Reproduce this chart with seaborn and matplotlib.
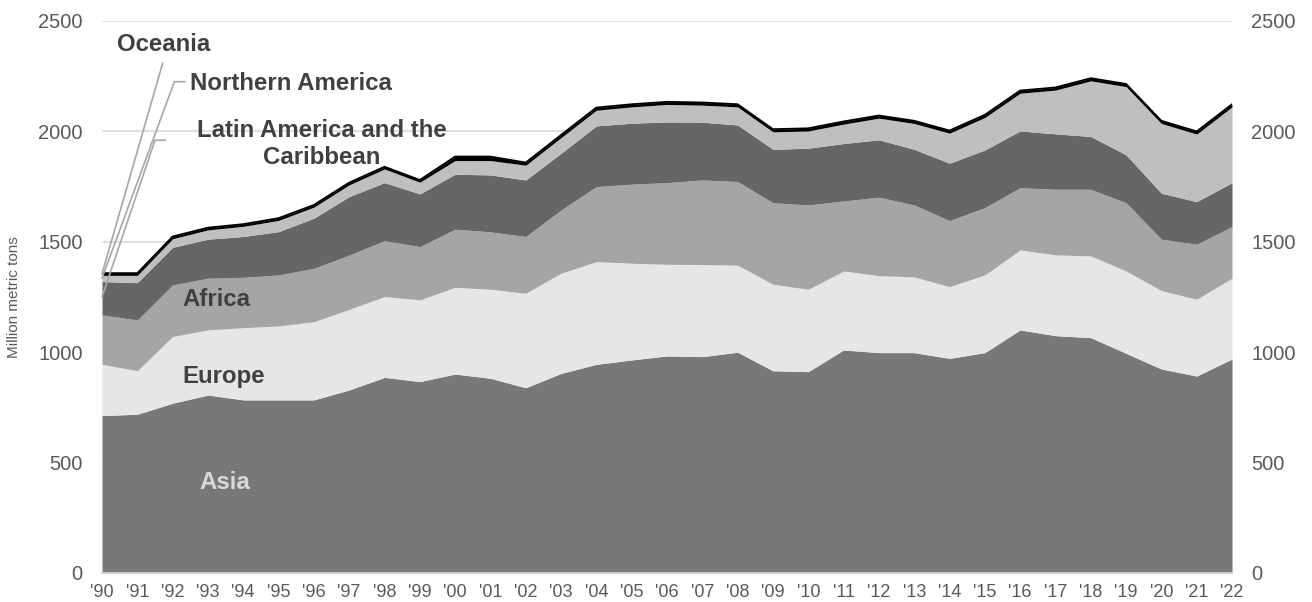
import numpy as np
import pandas as pd
import seaborn as sns
import matplotlib.pyplot as plt

# data (million metric tons)
years = list(range(1990, 2023))
year_labels = ["'" + str(y)[2:] for y in years]

asia = [713, 719, 769, 806, 784, 784, 784, 829, 886, 867, 901, 882, 839, 904, 945, 965, 983,
        980, 1000, 916, 912, 1010, 998, 998, 972, 998, 1101, 1075, 1066, 995, 924, 892, 969]
europe = [232, 197, 302, 295, 327, 335, 354, 365, 366, 370, 393, 403, 428, 454, 465, 438, 415,
          417, 394, 392, 373, 358, 349, 343, 325, 352, 362, 366, 370, 373, 355, 348, 366]
africa = [224, 230, 234, 234, 228, 231, 242, 246, 253, 241, 263, 260, 257, 286, 340, 358, 370,
          383, 379, 369, 382, 317, 355, 326, 299, 305, 282, 297, 302, 309, 233, 249, 234]
latin_america = [151, 169, 170, 177, 185, 196, 227, 265, 263, 239, 249, 258, 256, 257, 275, 276, 275,
                 262, 256, 242, 257, 260, 260, 252, 260, 261, 257, 251, 239, 217, 208, 193, 199]
northern_america = [28, 33, 39, 42, 46, 51, 50, 53, 62, 53, 62, 65, 67, 71, 71, 74, 79,
                    77, 82, 79, 78, 88, 98, 117, 136, 147, 171, 198, 252, 309, 316, 306, 343]
oceania = [10, 10, 10, 10, 10, 10, 10, 10, 10, 10, 18, 18, 12, 12, 12, 12, 12,
           12, 12, 12, 12, 12, 12, 12, 12, 12, 12, 12, 12, 12, 12, 12, 12]

regions = ['Asia', 'Europe', 'Africa', 'Latin America and the Caribbean', 'Northern America', 'Oceania']
colors = ['#787878', '#e6e6e6', '#a5a5a5', '#666666', '#bfbfbf', '#000000']

df = pd.DataFrame({'year': years, 'Asia': asia, 'Europe': europe, 'Africa': africa,
                   'Latin America and the Caribbean': latin_america,
                   'Northern America': northern_america, 'Oceania': oceania})
df['total'] = df[regions].sum(axis=1)

sns.set_theme(style='white')
plt.rcParams['font.family'] = ['Liberation Sans', 'DejaVu Sans']

fig = plt.figure(figsize=(13.12, 6.02), dpi=100)
ax = fig.add_axes([102 / 1312, 1 - 573 / 602, (1232 - 102) / 1312, (573 - 21) / 602])

ax.stackplot(df['year'], *[df[r] for r in regions], colors=colors, linewidth=0, zorder=2)
sns.lineplot(x='year', y='total', data=df, ax=ax, color='black', linewidth=1.3, zorder=3)

ax.set_xlim(1990, 2022)
ax.set_ylim(0, 2500)
ax.set_yticks([0, 500, 1000, 1500, 2000, 2500])
ax.yaxis.grid(True, color='#d9d9d9', linewidth=1.2, zorder=0)
ax.set_axisbelow(True)
ax.set_xticks(years)
ax.set_xticklabels(year_labels)
ax.tick_params(axis='x', length=4, width=1, color='#d9d9d9', labelsize=13, labelcolor='#595959', pad=4)
ax.tick_params(axis='y', length=0, labelsize=14.5, labelcolor='#595959', pad=14)
for s in ['top', 'right', 'left']:
    ax.spines[s].set_visible(False)
ax.spines['bottom'].set_color('#d9d9d9')
ax.spines['bottom'].set_linewidth(1.2)
ax.set_xlabel('')
ax.set_ylabel('Million metric tons', fontsize=11, color='#595959', labelpad=12)

ax2 = ax.twinx()
ax2.set_ylim(0, 2500)
ax2.set_yticks([0, 500, 1000, 1500, 2000, 2500])
ax2.tick_params(axis='y', length=0, labelsize=14.5, labelcolor='#595959', pad=14)
for s in ax2.spines.values():
    s.set_visible(False)
ax2.grid(False)

# region labels
lab = dict(fontsize=17.3, fontweight='bold', color='#404040')
ax.text(1991.74, 2392, 'Oceania', ha='center', va='center', **lab)
ax.text(1992.49, 2215, 'Northern America', ha='left', va='center', **lab)
ax.text(1996.23, 1942, 'Latin America and the\nCaribbean', ha='center', va='center', linespacing=1.25, **lab)
ax.text(1992.29, 1240, 'Africa', ha='left', va='center', **lab)
ax.text(1992.27, 890, 'Europe', ha='left', va='center', **lab)
ax.text(1992.75, 408, 'Asia', ha='left', va='center', fontsize=17.3, fontweight='bold', color='#d9d9d9')

# leader lines
lc = dict(color='#a6a6a6', linewidth=1.2, zorder=4, clip_on=False)
ax.plot([1991.72, 1990.0], [2310, 1355], **lc)
ax.plot([1992.35, 1992.05, 1990.0], [2225, 2225, 1335], **lc)
ax.plot([1991.8, 1991.5, 1990.0], [1960, 1960, 1250], **lc)

plt.savefig('out.png', dpi=100)
